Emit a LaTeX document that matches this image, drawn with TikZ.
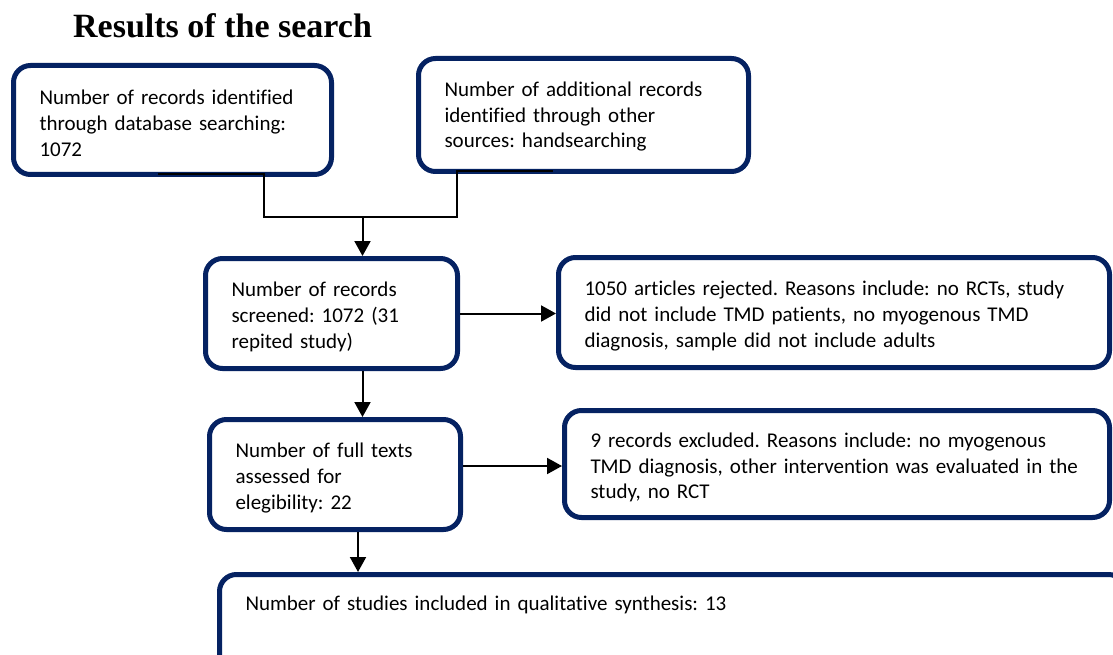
\documentclass[tikz,border=0pt]{standalone}
\usepackage{fontspec}
\setmainfont{Carlito}[Ligatures=NoCommon]
\newfontfamily\headfont{Liberation Serif}
\usetikzlibrary{arrows.meta}
\definecolor{boxblue}{RGB}{5,34,98}
% left-aligned lines that never rewrap, set a little below the box centre
\newcommand\boxlines[2][4pt]{\raisebox{-#1}[\height][\depth]{\begin{tabular}{@{}l@{}}#2\end{tabular}}}
\begin{document}
\frenchspacing
\begin{tikzpicture}[x=1pt,y=-1pt,
  flowbox/.style={draw=boxblue, line width=5pt, rounded corners=17pt, fill=white,
    align=left, inner xsep=26pt, inner ysep=0pt,
    font=\fontsize{21.0}{25.8}\selectfont\frenchspacing},
  conn/.style={line width=2pt, draw=black},
  arr/.style={conn, -{Triangle[width=16pt,length=15pt]}}]
\useasboundingbox (0,0) rectangle (1113,655);
\clip (0,0) rectangle (1113,655);

% heading
\node[anchor=base west, inner sep=0pt,
  font=\headfont\bfseries\fontsize{34}{40}\selectfont] (title) at (73,38) {Results of the search};

% identification
\node[flowbox, text width=266pt, minimum height=109pt] (A) at (172.5,120)
  {\boxlines[5.5pt]{Number of records identified\\through database searching:\\1072}};
\node[flowbox, text width=278pt, minimum height=113pt] (B) at (583.5,115)
  {\boxlines[2pt]{Number of additional records\\identified through other\\sources: handsearching}};

% screening
\node[flowbox, text width=200pt, minimum height=110pt] (C) at (331.5,313.5)
  {\boxlines{Number of records\\screened: 1072 (31\\repited study)}};
\node[flowbox, text width=499pt, minimum height=110pt] (D) at (834,312.5)
  {\boxlines{1050 articles rejected. Reasons include: no RCTs, study\\did not include TMD patients, no myogenous TMD\\diagnosis, sample did not include adults}};

% eligibility
\node[flowbox, text width=199pt, minimum height=110pt] (E) at (335,474.5)
  {\boxlines{Number of full texts\\assessed for\\elegibility: 22}};
\node[flowbox, text width=493pt, minimum height=107pt] (F) at (837,464)
  {\boxlines{9 records excluded. Reasons include: no myogenous\\TMD diagnosis, other intervention was evaluated in the\\study, no RCT}};

% included
\node[flowbox, anchor=north west, text width=854pt, text height=35.5pt, text depth=100pt] (G) at (217,572)
  {Number of studies included in qualitative synthesis: 13};

% connectors
\coordinate (aL) at (158,174.5);
\coordinate (aR) at (263.5,174.5);
\coordinate (join) at (362.5,217);
\coordinate (bL) at (457,171.5);
\coordinate (bR) at (553,171.5);
\coordinate (ef) at (0,466);
\coordinate (eg) at (358,0);

\draw[conn] (aL) -- (aR) -- (aR |- join) -- (bL |- join) -- (bL) -- (bR);
\draw[arr] (join) -- (join |- C.north);
\draw[arr] (C.east) -- (C.east -| D.west);
\draw[arr] (join |- C.south) -- (join |- E.north);
\draw[arr] (E.east |- ef) -- (F.west |- ef);
\draw[arr] (eg |- E.south) -- (eg |- G.north);
\end{tikzpicture}
\end{document}
